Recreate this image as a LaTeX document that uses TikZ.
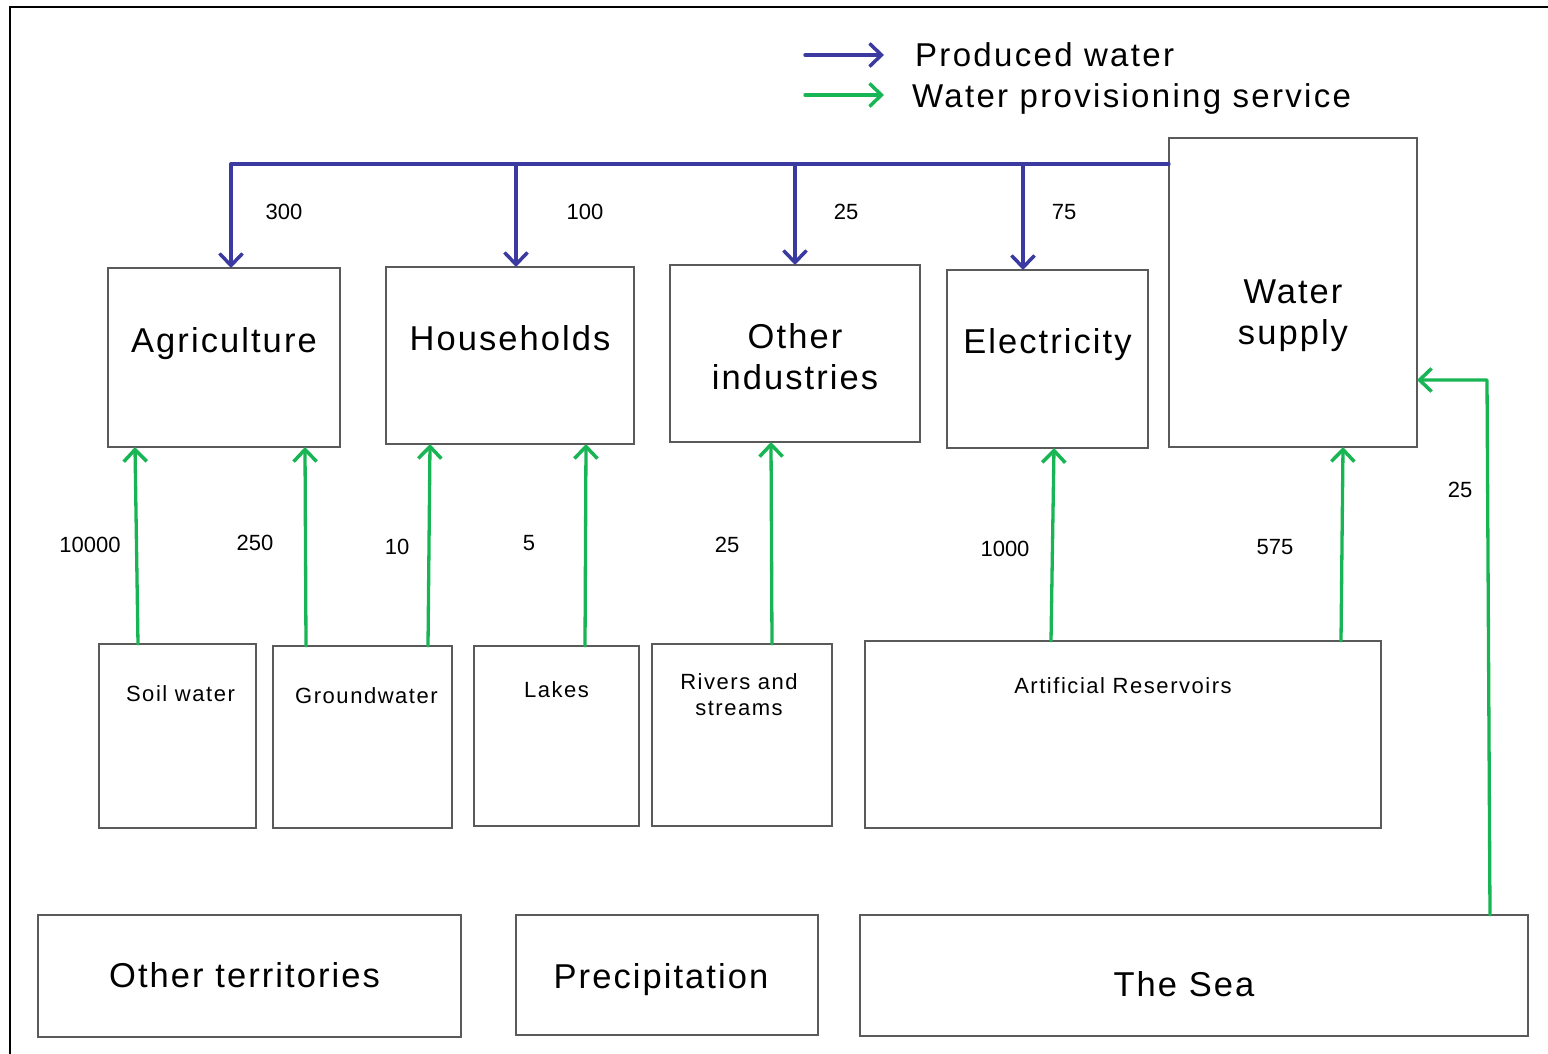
\documentclass[tikz,border=0pt]{standalone}
\usepackage{fontspec}
\setmainfont{Liberation Sans}
\usetikzlibrary{arrows.meta}
\definecolor{prodblue}{RGB}{58,58,160}
\definecolor{provgreen}{RGB}{24,181,84}
\definecolor{boxgray}{RGB}{90,90,90}
\newcommand{\bigfont}{\fontsize{34.5}{41}\selectfont\addfontfeature{LetterSpace=6}}
\newcommand{\legfont}{\fontsize{33}{38}\selectfont\addfontfeature{LetterSpace=7}}
\newcommand{\smallfont}{\fontsize{22}{26}\selectfont\addfontfeature{LetterSpace=7}}
\newcommand{\numfont}{\fontsize{22}{26}\selectfont}
\begin{document}
\begin{tikzpicture}[x=1pt,y=-1pt,
  box/.style={draw=boxgray, line width=2.2pt, outer sep=0pt, inner sep=0pt},
  bigtxt/.style={font=\bigfont, align=center, inner sep=0pt},
  smalltxt/.style={font=\smallfont, align=center, inner sep=0pt},
  num/.style={font=\numfont, inner sep=0pt},
  legtxt/.style={font=\legfont, anchor=west, inner sep=0pt},
  tipb/.style={-{Straight Barb[length=12pt,width=23pt,line width=3.5pt]}},
  prod/.style={draw=prodblue, line width=3.3pt, line cap=round, line join=round, tipb},
  prov/.style={draw=provgreen, line width=3.3pt, line cap=round, line join=round, tipb},
]
\useasboundingbox (0,0) rectangle (1548,1054);
% frame
\draw[line width=2pt] (10,1054) -- (10,7) -- (1548,7);

% legend
\coordinate (lb1) at (805,55);
\coordinate (lb2) at (884,55);
\coordinate (lg1) at (805,95);
\coordinate (lg2) at (884,95);
\draw[prod] (lb1) -- (lb2);
\draw[prov] (lg1) -- (lg2);
\node[legtxt] (legb) at (915,55) {Produced water};
\node[legtxt] (legg) at (912,99) {Water provisioning service};

% users
\node[box, minimum width=232pt, minimum height=179pt,
  label={[bigtxt,yshift=14pt]center:Agriculture}] (agr) at (224,357.5) {};
\node[box, minimum width=248pt, minimum height=177pt,
  label={[bigtxt,yshift=17pt]center:Households}] (hh) at (510,355.5) {};
\node[box, minimum width=250pt, minimum height=177pt,
  label={[bigtxt,yshift=-3pt]center:Other\\industries}] (oi) at (795,353.5) {};
\node[box, minimum width=201pt, minimum height=178pt,
  label={[bigtxt,yshift=14pt]center:Electricity}] (el) at (1047.5,359) {};
\node[box, minimum width=248pt, minimum height=309pt,
  label={[bigtxt,yshift=-23pt]center:Water\\supply}] (ws) at (1293,292.5) {};

% sources
\node[box, minimum width=157pt, minimum height=184pt,
  label={[smalltxt,xshift=3pt,yshift=42pt]center:Soil water}] (soil) at (177.5,736) {};
\node[box, minimum width=179pt, minimum height=182pt,
  label={[smalltxt,xshift=4pt,yshift=41pt]center:Groundwater}] (gw) at (362.5,737) {};
\node[box, minimum width=165pt, minimum height=180pt,
  label={[smalltxt,yshift=46pt]center:Lakes}] (lk) at (556.5,736) {};
\node[box, minimum width=180pt, minimum height=182pt,
  label={[smalltxt,xshift=-3pt,yshift=40pt]center:Rivers and\\streams}] (rv) at (742,735) {};
\node[box, minimum width=516pt, minimum height=187pt,
  label={[smalltxt,yshift=48.5pt]center:Artificial Reservoirs}] (ar) at (1123,734.5) {};

% bottom
\node[box, minimum width=423pt, minimum height=122pt,
  label={[bigtxt,xshift=-5pt,yshift=1pt]center:Other territories}] (ot) at (249.5,976) {};
\node[box, minimum width=302pt, minimum height=120pt,
  label={[bigtxt,xshift=-6pt,yshift=-5pt]center:Precipitation}] (pr) at (667,975) {};
\node[box, minimum width=668pt, minimum height=121pt,
  label={[bigtxt,xshift=-10pt,yshift=-9pt]center:The Sea}] (sea) at (1194,975.5) {};

% produced water bus
\coordinate (bus) at (1169,164);
\draw[prod] (bus) -- (231,164) -- (agr.north -| 231,0);
\draw[prod] (bus -| 516,0) -- (hh.north -| 516,0);
\draw[prod] (bus -| 795,0) -- (oi.north -| 795,0);
\draw[prod] (bus -| 1023,0) -- (el.north -| 1023,0);
\node[num] (n300) at (284,212) {300};
\node[num] (n100) at (585,212) {100};
\node[num] (n25a) at (846,212) {25};
\node[num] (n75) at (1064,212) {75};

% provisioning
\draw[prov] (soil.north -| 138,0) -- (agr.south -| 135,0);
\draw[prov] (gw.north -| 306,0) -- (agr.south -| 305,0);
\draw[prov] (gw.north -| 428,0) -- (hh.south -| 430,0);
\draw[prov] (lk.north -| 585,0) -- (hh.south -| 586,0);
\draw[prov] (rv.north -| 772,0) -- (oi.south -| 771,0);
\draw[prov] (ar.north -| 1051,0) -- (el.south -| 1054,0);
\draw[prov] (ar.north -| 1341,0) -- (ws.south -| 1343,0);
\draw[prov] (sea.north -| 1490,0) -- (1487,380) -- (ws.east |- 0,380);
\node[num] (n10000) at (90,545) {10000};
\node[num] (n250) at (255,543) {250};
\node[num] (n10) at (397,547) {10};
\node[num] (n5) at (529,543) {5};
\node[num] (n25b) at (727,545) {25};
\node[num] (n1000) at (1005,549) {1000};
\node[num] (n575) at (1275,547) {575};
\node[num] (n25c) at (1460,490) {25};
\end{tikzpicture}
\end{document}
